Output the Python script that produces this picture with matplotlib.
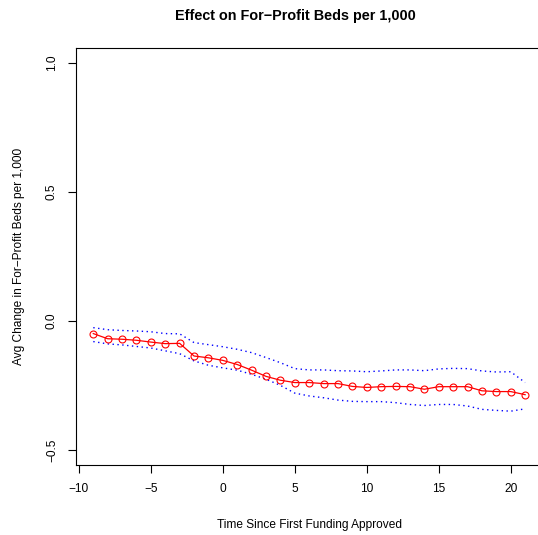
import numpy as np
import matplotlib
matplotlib.use('Agg')
import matplotlib.pyplot as plt

plt.rcParams['font.family'] = ['Liberation Sans', 'DejaVu Sans']

# event time
t = np.arange(-9, 22)

# point estimates
est = [-0.049, -0.069, -0.071, -0.075, -0.082, -0.088, -0.087, -0.136, -0.143, -0.153,
       -0.169, -0.191, -0.215, -0.230, -0.239, -0.239, -0.243, -0.243, -0.254, -0.258,
       -0.255, -0.254, -0.255, -0.265, -0.255, -0.255, -0.255, -0.271, -0.274, -0.274,
       -0.286]

# confidence bands
upper = [-0.026, -0.034, -0.037, -0.039, -0.042, -0.049, -0.050, -0.084, -0.092, -0.100,
         -0.110, -0.123, -0.142, -0.162, -0.185, -0.190, -0.190, -0.193, -0.194, -0.197,
         -0.194, -0.190, -0.190, -0.193, -0.186, -0.184, -0.185, -0.194, -0.198, -0.197,
         -0.239]
lower = [-0.080, -0.089, -0.093, -0.099, -0.105, -0.116, -0.127, -0.155, -0.172, -0.182,
         -0.191, -0.207, -0.226, -0.250, -0.280, -0.291, -0.298, -0.307, -0.312, -0.313,
         -0.313, -0.317, -0.324, -0.328, -0.324, -0.324, -0.330, -0.343, -0.347, -0.350,
         -0.341]

xticks = [-10, -5, 0, 5, 10, 15, 20]
yticks = [-0.5, 0.0, 0.5, 1.0]

W, H = 538, 535
fig = plt.figure(figsize=(W / 100, H / 100), dpi=100)
left, right, top, bottom = 76, 542.4, 47.7, 465.3
ax = fig.add_axes([left / W, 1 - bottom / H, (right - left) / W, (bottom - top) / H])

ax.plot(t, upper, color='blue', lw=1.0, linestyle=(0, (1, 2.5)), dash_capstyle='butt')
ax.plot(t, lower, color='blue', lw=1.0, linestyle=(0, (1, 2.5)), dash_capstyle='butt')
ax.plot(t, est, color='red', lw=0.9, marker='o', markersize=5, markerfacecolor='none',
        markeredgecolor='red', markeredgewidth=0.8)

ax.set_xlim(-10.2, 22.2)
ax.set_ylim(-0.56, 1.06)
ax.set_xticks(xticks)
ax.set_xticklabels(['\u2212' + str(-v) if v < 0 else str(v) for v in xticks])
ax.set_yticks(yticks)
ax.set_yticklabels(['\u22120.5', '0.0', '0.5', '1.0'], rotation=90, va='center')
ax.tick_params(direction='out', length=5.5, width=0.8, labelsize=8.6, pad=7.5)
for s in ax.spines.values():
    s.set_linewidth(0.8)

ax.set_xlabel('Time Since First Funding Approved', fontsize=8.6, labelpad=17)
ax.set_ylabel('Avg Change in For\u2212Profit Beds per 1,000', fontsize=8.6, labelpad=15)
fig.text(295 / W, 1 - 16 / H, 'Effect on For\u2212Profit Beds per 1,000', ha='center',
         va='center', fontsize=10.4, fontweight='bold')

fig.savefig('out.png', dpi=100)
